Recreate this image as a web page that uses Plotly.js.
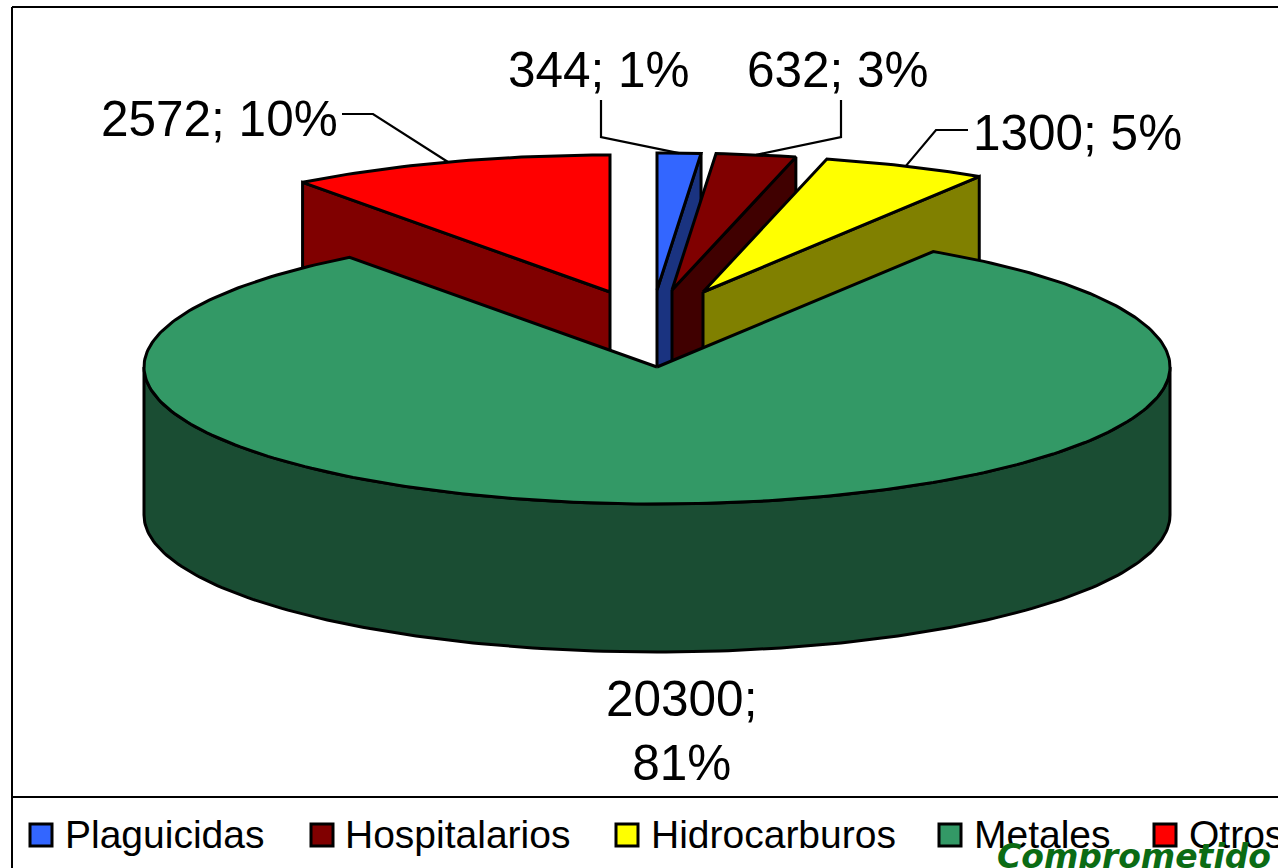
<!DOCTYPE html>
<html>
<head>
<meta charset="utf-8">
<script src="https://cdn.plot.ly/plotly-3.0.1.min.js"></script>
<style>html,body{margin:0;padding:0;background:#fff;overflow:hidden}#chart{width:1278px;height:868px}</style>
</head>
<body>
<div id="chart"></div>
<script>
// ---- data ----
var categories = ["Plaguicidas", "Hospitalarios", "Hidrocarburos", "Metales", "Otros"];
var values = [344, 632, 1300, 20300, 2572];

// ---- styles ----
var topColors = ["#3366ff", "#800000", "#ffff00", "#339966", "#ff0000"];
var sideColors = ["#1a3380", "#400000", "#808000", "#1a4d33", "#800000"];

// ---- pie projection, in page-sized axis units ----
var cx = 657, cy = 367, rx = 513, ry = 137, depth = 148;
var shiftX = [0, 15, 46, 0, -47];
var shiftY = [-77, -77, -75, 0, -75];
var edge = {color: "#000", width: 3};
var FONT = "Liberation Sans, Arial, sans-serif";

var total = values.reduce(function (a, b) { return a + b; }, 0);
var traces = [];

function rimX(i, deg) { return cx + shiftX[i] + rx * Math.sin(deg * Math.PI / 180); }
function rimY(i, deg) { return cy + shiftY[i] - ry * Math.cos(deg * Math.PI / 180); }

var starts = [], ends = [], acc = 0;
values.forEach(function (v) {
  starts.push(acc / total * 360);
  acc += v;
  ends.push(acc / total * 360);
});

function polygon(name, xs, ys, color) {
  traces.push({
    type: "scatter", mode: "lines", name: name, x: xs, y: ys,
    fill: "toself", fillcolor: color, line: edge, hoverinfo: "name", showlegend: false
  });
}

function drawSlice(i) {
  var ax = cx + shiftX[i], ay = cy + shiftY[i];
  var a = starts[i], b = ends[i];
  if (i === 3) {
    // front wall of the large slice: only the near half of the rim is visible
    var wx = [], wy = [], d;
    for (d = 90; d <= 270; d += 1) { wx.push(rimX(i, d)); wy.push(rimY(i, d)); }
    for (d = 270; d >= 90; d -= 1) { wx.push(rimX(i, d)); wy.push(rimY(i, d) + depth); }
    wx.push(wx[0]); wy.push(wy[0]);
    polygon(categories[i] + " (lateral)", wx, wy, sideColors[i]);
  } else {
    // cut face seen from the front: right radius on the right of the pie, left radius on the left
    var f = (a + b) / 2 > 180 ? a : b;
    var ex = rimX(i, f), ey = rimY(i, f);
    polygon(categories[i] + " (lateral)",
      [ax, ex, ex, ax, ax], [ay, ey, ey + depth, ay + depth, ay], sideColors[i]);
  }
  var tx = [ax], ty = [ay], n = Math.max(2, Math.ceil(b - a)), k;
  for (k = 0; k <= n; k++) {
    var deg = a + (b - a) * k / n;
    tx.push(rimX(i, deg)); ty.push(rimY(i, deg));
  }
  tx.push(ax); ty.push(ay);
  polygon(categories[i], tx, ty, topColors[i]);
}

// painter's order: the exploded slices at the back, then the large slice in front
[0, 1, 2, 4, 3].forEach(drawSlice);

// ---- leader lines: from the label elbow to the slice rim ----
var leaderStart = [[601, 100], [841, 100], [968, 130], null, [342, 114]];
var leaderElbow = [[601, 137], [841, 137], [936, 130], null, [373, 114]];
leaderStart.forEach(function (s, i) {
  if (!s) return;
  var mid = (starts[i] + ends[i]) / 2;
  traces.push({
    type: "scatter", mode: "lines", name: "guia " + categories[i], hoverinfo: "skip", showlegend: false,
    x: [s[0], leaderElbow[i][0], rimX(i, mid)],
    y: [s[1], leaderElbow[i][1], rimY(i, mid)],
    line: {color: "#000", width: 2.2}
  });
});

// ---- data labels ----
function labelText(i) {
  var sep = i === 3 ? ";<br>" : "; ";
  return values[i] + sep + Math.round(values[i] / total * 100) + "%";
}
var labelPos = [[599, 69], [838, 69], [1077, 132], [681, 730], [219, 118]];
var annotations = values.map(function (v, i) {
  return {
    xref: "x", yref: "y", x: labelPos[i][0], y: labelPos[i][1],
    text: labelText(i), showarrow: false, xanchor: "center", yanchor: "middle",
    font: {family: FONT, size: 49.5, color: "#000"}
  };
});

// ---- legend row ----
var legendSwatchX = [41, 322, 627, 950, 1165];
var legendTextX = [66, 346, 652, 975, 1190];
var legendY = 835;
categories.forEach(function (c, i) {
  traces.push({
    type: "scatter", mode: "markers", name: c, x: [legendSwatchX[i]], y: [legendY],
    marker: {symbol: "square", size: 22, color: topColors[i], line: {color: "#000", width: 3}},
    hoverinfo: "name", showlegend: false, cliponaxis: false
  });
  annotations.push({
    xref: "x", yref: "y", x: legendTextX[i], y: legendY - 1, text: c, showarrow: false,
    xanchor: "left", yanchor: "middle", xshift: -3,
    font: {family: FONT, size: 39, color: "#000"}
  });
});

// watermark at the foot of the picture
annotations.push({
  xref: "x", yref: "y", x: 998, y: 838, text: "<b><i>Comprometido</i></b>", showarrow: false,
  xanchor: "left", yanchor: "top", xshift: -3, yshift: 3,
  font: {family: "DejaVu Sans, sans-serif", size: 33, color: "#0b6b14"}
});

var frame = {color: "#000", width: 2};
var shapes = [
  {type: "line", xref: "x", yref: "y", x0: 12, y0: 7, x1: 1278, y1: 7, line: frame},
  {type: "line", xref: "x", yref: "y", x0: 12, y0: 7, x1: 12, y1: 868, line: frame},
  {type: "line", xref: "x", yref: "y", x0: 12, y0: 797, x1: 1278, y1: 797, line: frame}
];

var layout = {
  width: 1278, height: 868, autosize: false,
  margin: {l: 0, r: 0, t: 0, b: 0, pad: 0},
  paper_bgcolor: "#fff", plot_bgcolor: "#fff", showlegend: false,
  xaxis: {range: [0, 1278], visible: false, fixedrange: true},
  yaxis: {range: [868, 0], visible: false, fixedrange: true},
  annotations: annotations, shapes: shapes
};
Plotly.newPlot("chart", traces, layout, {staticPlot: true, displayModeBar: false});
</script>
</body>
</html>
